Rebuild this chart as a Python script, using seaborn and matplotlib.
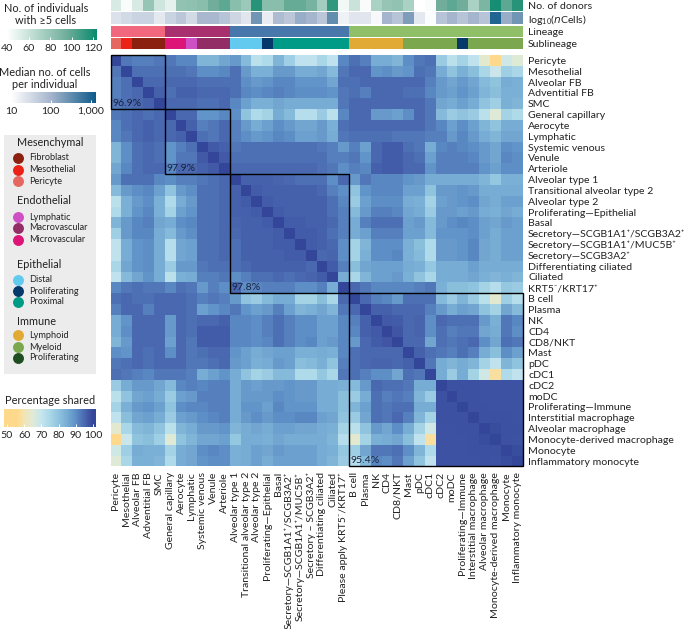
import numpy as np
import pandas as pd
import matplotlib
matplotlib.use('Agg')
import matplotlib.pyplot as plt
from matplotlib.colors import LinearSegmentedColormap, ListedColormap
from matplotlib.patches import Rectangle
import seaborn as sns

# Labels (right side and bottom differ in two places)
row_labels = ['Pericyte', 'Mesothelial', 'Alveolar FB', 'Adventitial FB', 'SMC',
              'General capillary', 'Aerocyte', 'Lymphatic', 'Systemic venous', 'Venule', 'Arteriole',
              'Alveolar type 1', 'Transitional alveolar type 2', 'Alveolar type 2', 'Proliferating—Epithelial',
              'Basal', 'Secretory—SCGB1A1⁺/SCGB3A2⁺', 'Secretory—SCGB1A1⁺/MUC5B⁺',
              'Secretory—SCGB3A2⁺', 'Differentiating ciliated', 'Ciliated', 'KRT5⁻/KRT17⁺',
              'B cell', 'Plasma', 'NK', 'CD4', 'CD8/NKT', 'Mast', 'pDC', 'cDC1', 'cDC2', 'moDC',
              'Proliferating—Immune', 'Interstitial macrophage', 'Alveolar macrophage',
              'Monocyte-derived macrophage', 'Monocyte', 'Inflammatory monocyte']
col_labels = list(row_labels)
col_labels[18] = 'Secretory – SCGB3A2⁺'
col_labels[21] = 'Please apply KRT5⁻/KRT17⁺'

# Percentage shared, upper triangle, one list per row
shared_upper = [
    [100, 93, 92, 92, 93, 93, 91, 91, 83, 83, 86, 88, 82, 72, 74, 83, 77, 71, 71, 75, 71, 91, 94, 92, 85, 85, 83, 90, 93, 94, 78, 72, 76, 71, 64, 56, 68, 65],
    [100, 94, 94, 94, 94, 94, 93, 90, 90, 91, 94, 88, 84, 84, 88, 88, 85, 85, 86, 82, 93, 95, 95, 89, 90, 88, 89, 94, 93, 85, 80, 84, 81, 75, 69, 77, 75],
    [100, 95, 95, 95, 95, 95, 94, 94, 94, 94, 90, 88, 89, 91, 91, 89, 89, 89, 86, 94, 94, 95, 95, 95, 95, 95, 95, 92, 88, 86, 88, 86, 82, 80, 85, 84],
    [100, 96, 94, 96, 96, 95, 95, 95, 94, 91, 90, 91, 92, 91, 90, 90, 90, 89, 93, 94, 92, 95, 95, 95, 94, 94, 91, 88, 87, 89, 87, 83, 81, 84, 84],
    [100, 95, 95, 95, 94, 94, 95, 91, 87, 84, 84, 86, 85, 85, 85, 85, 85, 93, 95, 95, 95, 95, 95, 95, 95, 93, 86, 85, 87, 85, 80, 77, 84, 83],
    [100, 95, 95, 89, 89, 91, 90, 80, 74, 76, 85, 82, 73, 73, 78, 72, 91, 95, 95, 88, 88, 87, 90, 95, 93, 82, 78, 80, 78, 72, 65, 76, 74],
    [100, 96, 92, 93, 95, 92, 88, 85, 87, 90, 88, 86, 86, 88, 84, 94, 95, 95, 95, 95, 95, 95, 95, 93, 91, 87, 90, 87, 83, 80, 85, 85],
    [100, 94, 93, 95, 92, 90, 88, 89, 91, 90, 87, 87, 88, 85, 93, 94, 94, 94, 94, 93, 93, 93, 92, 92, 88, 91, 88, 85, 83, 86, 86],
    [100, 97, 96, 93, 94, 94, 94, 94, 94, 94, 94, 93, 92, 88, 92, 87, 95, 96.5, 96.5, 94, 93, 85, 91, 92, 91, 90, 88, 86, 90, 89],
    [100, 97, 94, 94, 94, 94, 94, 94, 94, 94, 94, 92, 92, 93, 89, 95, 96.5, 96.5, 95, 94, 87, 92, 92, 92, 91, 88, 86, 91, 90],
    [100, 95, 95, 95, 95, 95, 95, 95, 95, 94, 93, 90, 92, 91, 96, 96.5, 96.5, 95, 95, 89, 92, 92, 92, 92, 89, 87, 90, 90],
    [100, 96, 96, 96, 95.5, 95, 94, 94, 94, 90, 95, 88, 93, 91, 91, 91, 89, 88, 85, 85, 85, 85, 85, 83, 79, 84, 84],
    [100, 96.5, 96, 96, 96, 96, 96, 95, 92, 90, 80, 89, 91, 91, 91, 87, 87, 80, 88, 88, 89, 88, 85, 85, 85, 85],
    [100, 96.5, 96, 96, 96, 96, 96, 94, 91, 78, 87, 90, 90, 90, 85, 84, 76, 87, 88, 89, 90, 86, 85, 87, 87],
    [100, 96.5, 96, 96, 96, 96, 94, 92, 82, 88, 92, 92, 91, 86, 85, 78, 88, 88, 87, 88, 85, 84, 86, 85],
    [100, 96.5, 96.5, 96, 96, 95, 92, 85, 92, 94, 94, 94, 87, 88, 82, 88, 90, 91, 90, 87, 86, 88, 87],
    [100, 96.5, 96.5, 96, 94, 92, 85, 87, 92, 92, 92, 87, 87, 82, 89, 89, 89, 90, 87, 85, 87, 87],
    [100, 96.5, 96, 95, 90, 76, 83, 90, 90, 90, 84, 81, 74, 88, 88, 89, 91, 86, 85, 87, 87],
    [100, 95, 95.5, 90, 76, 84, 90, 90, 91, 84, 82, 74, 88, 88, 89, 91, 86, 85, 87, 87],
    [100, 96.5, 92, 81, 86, 87, 87, 87, 85, 84, 79, 85, 85, 85, 87, 85, 85, 85, 85],
    [100, 85, 75, 83, 87, 87, 88, 84, 80, 75, 85, 85, 85, 86, 84, 83, 84, 83],
    [100, 95, 93, 91, 91, 91, 91, 92, 93, 84, 81, 81, 80, 76, 73, 79, 78],
    [100, 95, 92, 91, 88, 94, 94, 94, 82, 78, 83, 78, 72, 64, 77, 73],
    [100, 96, 96, 95, 95, 95, 92, 88, 85, 87, 86, 80, 76, 86, 82],
    [100, 97, 96.5, 95, 95.5, 90, 95, 94, 94, 94, 88, 84, 93, 91],
    [100, 97.5, 95, 95.5, 90, 94, 92, 93, 93, 86, 85, 93, 90],
    [100, 95, 95, 86, 94, 93, 94, 95, 90, 86, 94, 93],
    [100, 96, 94, 93, 92, 94, 92, 85, 81, 90, 87],
    [100, 93, 85, 83, 85, 83, 76, 71, 83, 80],
    [100, 85, 78, 85, 76, 68, 58, 74, 71],
    [100, 98.3, 98.3, 98.3, 98, 98, 98, 98],
    [100, 98.3, 98.3, 98, 98, 98, 98],
    [100, 98.3, 98.3, 98, 98, 98],
    [100, 98.3, 98.3, 98.3, 98],
    [100, 98.8, 98.3, 98.3],
    [100, 98.3, 98],
    [100, 98.8],
    [100],
]

# Annotation tracks
n_donors = [55, 42, 55, 80, 58, 50, 82, 83, 85, 95, 100, 85, 78, 115, 85, 85, 98, 98, 92, 75, 112, 45,
            60, 42, 72, 80, 82, 72, 40, 42, 95, 100, 95, 72, 90, 120, 100, 115]
log_cells = [1.4, 1.5, 1.6, 1.6, 1.3, 1.6, 1.75, 1.5, 1.95, 1.95, 1.8, 1.55, 1.35, 2.4, 1.25, 1.9, 1.75, 2.1, 2.0, 1.75, 2.5, 1.2,
             1.35, 1.35, 1.1, 2.0, 1.8, 2.3, 1.3, 1.05, 1.8, 2.0, 1.8, 2.0, 1.8, 3.0, 2.1, 2.4]
lineage = [0] * 5 + [1] * 6 + [2] * 11 + [3] * 16
sublineage = [0, 1, 2, 2, 2, 3, 3, 4, 5, 5, 5, 6, 6, 6, 7, 8, 8, 8, 8, 8, 8, 8,
              9, 9, 9, 9, 9, 10, 10, 10, 10, 10, 7, 10, 10, 10, 10, 10]
lineage_colors = ['#f0677e', '#a8306f', '#4878ab', '#8fbf66']
sublineage_colors = ['#e5675f', '#ec2218', '#8b2010', '#de1578', '#cf4fc4', '#932d66',
                     '#62c9ef', '#05386b', '#009b86', '#e0aa35', '#7ba84f']

# Blocks: first cell, size, label
blocks = [(0, 5, '96.9%'), (5, 6, '97.9%'), (11, 11, '97.8%'), (22, 16, '95.4%')]

legend_groups = [
    ('Mesenchymal', 143, [('Fibroblast', '#8b2010', 158), ('Mesothelial', '#ec2218', 169.5), ('Pericyte', '#e5675f', 181)]),
    ('Endothelial', 201, [('Lymphatic', '#cf4fc4', 217), ('Macrovascular', '#932d66', 228), ('Microvascular', '#de1578', 240)]),
    ('Epithelial', 264, [('Distal', '#62c9ef', 280), ('Proliferating', '#05386b', 291), ('Proximal', '#009b86', 302)]),
    ('Immune', 321.5, [('Lymphoid', '#e0aa35', 335), ('Myeloid', '#7ba84f', 347), ('Proliferating', '#1f4d22', 358)]),
]

W, H = 685, 629
plt.rcParams['font.family'] = ['Lato', 'DejaVu Sans']
plt.rcParams['mathtext.default'] = 'regular'
TEXT = '#222222'
fs = 7.55


def px_axes(x0, y0, x1, y1):
    return fig.add_axes([x0 / W, 1 - y1 / H, (x1 - x0) / W, (y1 - y0) / H])


def style_cbar(cax, ticks, labels):
    cax.set_xticks(ticks)
    cax.set_xticklabels(labels, fontsize=fs, color=TEXT)
    cax.tick_params(axis='x', direction='in', color='white', length=2.5, width=0.7, pad=3)
    cax.minorticks_off()


fig = plt.figure(figsize=(W / 100, H / 100), dpi=100)

# Main heatmap
shared = np.zeros((38, 38))
for i, row in enumerate(shared_upper):
    shared[i, i:] = row
    shared[i:, i] = row
df = pd.DataFrame(shared, index=row_labels, columns=col_labels)

stops = [50, 56, 60, 65, 70, 75, 80, 85, 90, 95, 98, 100]
stop_colors = ['#fed98b', '#fed98b', '#f2e5b5', '#dfead6', '#c5e5ef', '#aad7e8', '#8fc3de', '#77acd4',
               '#5d8fc6', '#4a68b0', '#3e53a3', '#33469a']
vmin, vmax = 48.3, 101.7
pos = [0] + [(s - vmin) / (vmax - vmin) for s in stops] + [1]
shared_cmap = LinearSegmentedColormap.from_list('shared', list(zip(pos, [stop_colors[0]] + stop_colors + [stop_colors[-1]])))

ax = px_axes(110.5, 55, 522.5, 466.5)
cax = px_axes(4, 409, 96, 427)
sns.heatmap(df, ax=ax, cmap=shared_cmap, vmin=vmin, vmax=vmax, cbar_ax=cax,
            cbar_kws={'orientation': 'horizontal'}, xticklabels=True, yticklabels=True, rasterized=True)
ax.collections[0].colorbar.outline.set_visible(False)
style_cbar(cax, [50, 60, 70, 80, 90, 100], ['50', '60', '70', '80', '90', '100'])
ax.yaxis.tick_right()
ax.tick_params(axis='both', length=0, pad=4)
ax.set_yticklabels(row_labels, rotation=0, fontsize=fs, color=TEXT)
ax.set_xticklabels(col_labels, rotation=90, fontsize=fs, color=TEXT)
ax.set_xlabel('')
ax.set_ylabel('')

for start, size, label in blocks:
    ax.add_patch(Rectangle((start, start), size, size, fill=False, edgecolor='black', lw=1.0, clip_on=False))
    ax.text(start + 0.15, start + size - 0.1, label, fontsize=fs, color='#1a2340', ha='left', va='bottom')

# Top tracks
donor_cmap = LinearSegmentedColormap.from_list('donors', ['#ffffff', '#b5d8cc', '#6fae9a', '#0a8a6e'])
log_cmap = LinearSegmentedColormap.from_list('logcells', [(0, '#ffffff'), (0.465, '#a5b5cd'), (1, '#0c5a88')])

ax_donor = px_axes(110.5, 0, 522.5, 11)
cax1 = px_axes(7, 29, 96.5, 40)
sns.heatmap([n_donors], ax=ax_donor, cmap=donor_cmap, vmin=40, vmax=123, cbar_ax=cax1,
            cbar_kws={'orientation': 'horizontal'}, rasterized=True)
ax_donor.collections[0].colorbar.outline.set_visible(False)
style_cbar(cax1, [40, 60, 80, 100, 120], ['40', '60', '80', '100', '120'])

ax_log = px_axes(110.5, 12, 522.5, 23.5)
cax2 = px_axes(11, 92, 96.5, 103)
sns.heatmap([log_cells], ax=ax_log, cmap=log_cmap, vmin=1, vmax=3.15, cbar_ax=cax2,
            cbar_kws={'orientation': 'horizontal'}, rasterized=True)
ax_log.collections[0].colorbar.outline.set_visible(False)
style_cbar(cax2, [1, 2, 3], ['10', '100', '1,000'])

ax_lin = px_axes(110.5, 26, 522.5, 36.7)
sns.heatmap([lineage], ax=ax_lin, cmap=ListedColormap(lineage_colors), vmin=-0.5, vmax=3.5, cbar=False, rasterized=True)
ax_sub = px_axes(110.5, 38, 522.5, 49.3)
sns.heatmap([sublineage], ax=ax_sub, cmap=ListedColormap(sublineage_colors), vmin=-0.5, vmax=10.5, cbar=False, rasterized=True)

track_names = ['No. of donors', 'log$_{10}$($\\mathit{n}$Cells)', 'Lineage', 'Sublineage']
for track, name in zip([ax_donor, ax_log, ax_lin, ax_sub], track_names):
    track.set_xticks([])
    track.yaxis.tick_right()
    track.set_yticks([0.5])
    track.set_yticklabels([name], rotation=0, fontsize=fs, color=TEXT)
    track.tick_params(axis='y', length=0, pad=4)

# Overlay in pixel coordinates for the left-hand legends
over = fig.add_axes([0, 0, 1, 1], zorder=-1)
over.set_xlim(0, W)
over.set_ylim(H, 0)
over.axis('off')
over.add_patch(Rectangle((4.3, 135), 91.7, 239, facecolor='#ececec', edgecolor='none'))
for title, y, items in legend_groups:
    over.text(17, y, title, fontsize=7.8, color=TEXT, va='center', ha='left')
    for name, color, iy in items:
        over.scatter([18.5], [iy], s=62, color=color, linewidths=0)
        over.text(28.7, iy, name, fontsize=6.6, color=TEXT, va='center', ha='left')

head_fs = 7.9
over.text(46, 8, 'No. of individuals', fontsize=head_fs, color=TEXT, ha='center', va='center')
over.text(46, 21, 'with ≥5 cells', fontsize=head_fs, color=TEXT, ha='center', va='center')
over.text(45, 72, 'Median no. of cells', fontsize=head_fs, color=TEXT, ha='center', va='center')
over.text(45, 84, 'per individual', fontsize=head_fs, color=TEXT, ha='center', va='center')
over.text(50, 401, 'Percentage shared', fontsize=head_fs, color=TEXT, ha='center', va='center')

fig.savefig('out.png', dpi=100)
